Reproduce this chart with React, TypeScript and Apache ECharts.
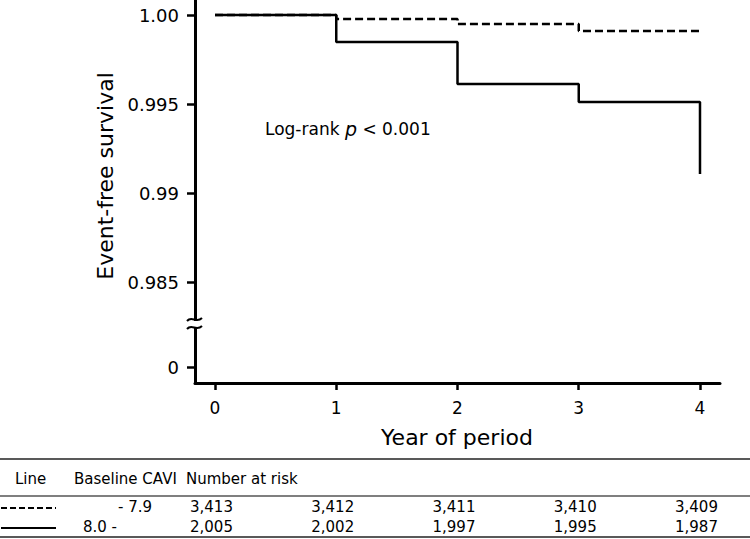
import React, { useEffect, useRef } from "react";
import * as echarts from "echarts";

const years = [0, 1, 2, 3, 4];
const survivalLow = [1.0, 0.99978, 0.99949, 0.9991, 0.999]; // Baseline CAVI -7.9 (dashed)
const survivalHigh = [1.0, 0.99848, 0.99612, 0.99511, 0.99107]; // Baseline CAVI 8.0- (solid)
const yTickValues = [0.9802, 0.985, 0.99, 0.995, 1.0];
const yTickLabels = ["0", "0.985", "0.99", "0.995", "1.00"];
const tableHeaders = ["Line", "Baseline CAVI", "Number at risk"];
const groupLabels = ["- 7.9", "8.0 -"];
const riskLow = ["3,413", "3,412", "3,411", "3,410", "3,409"];
const riskHigh = ["2,005", "2,002", "1,997", "1,995", "1,987"];

const FONT = "DejaVu Sans";

export default function App() {
  const ref = useRef<HTMLDivElement>(null);
  useEffect(() => {
    if (!ref.current) return;
    const chart = echarts.init(ref.current, null, { renderer: "svg" });
    const option: any = {
      animation: false,
      backgroundColor: "#fff",
      grid: { left: 195, right: 30, top: 0, bottom: 156 },
      xAxis: {
        type: "value",
        min: -0.165,
        max: 4.165,
        axisLine: { show: true, onZero: false, lineStyle: { color: "#000", width: 3 } },
        axisTick: { show: true, length: 7, lineStyle: { color: "#000", width: 2.5 }, customValues: years },
        axisLabel: { fontFamily: FONT, fontSize: 17, color: "#000", margin: 16, customValues: years },
        splitLine: { show: false },
      },
      yAxis: {
        type: "value",
        min: 0.97933,
        max: 1.000843,
        axisLine: { show: true, onZero: false, lineStyle: { color: "#000", width: 3 } },
        axisTick: { show: true, length: 8, lineStyle: { color: "#000", width: 2.5 }, customValues: yTickValues },
        axisLabel: {
          fontFamily: FONT,
          fontSize: 18,
          color: "#000",
          margin: 16,
          customValues: yTickValues,
          formatter: (v: number) => {
            const i = yTickValues.findIndex((t) => Math.abs(t - v) < 1e-6);
            return i >= 0 ? yTickLabels[i] : "";
          },
        },
        splitLine: { show: false },
      },
      series: [
        {
          type: "line",
          step: "end",
          symbol: "none",
          data: years.map((x, i) => [x, survivalLow[i]]),
          lineStyle: { color: "#000", width: 2.5, type: [8, 4] },
          z: 2,
        },
        {
          type: "line",
          step: "end",
          symbol: "none",
          data: years.map((x, i) => [x, survivalHigh[i]]),
          lineStyle: { color: "#000", width: 2.5 },
          z: 3,
        },
      ],
    };
    chart.setOption(option);

    const px = (v: number) => chart.convertToPixel({ xAxisIndex: 0 }, v) as number;
    const axisX = chart.convertToPixel({ xAxisIndex: 0 }, -0.165) as number;
    const tableText = (text: string, x: number, y: number, align: string = "left") => ({
      type: "text",
      x,
      y,
      style: { text, fontFamily: FONT, fontSize: 15, fill: "#000", align, verticalAlign: "middle" },
    });

    const graphics: any[] = [
      // axis titles
      {
        type: "text",
        x: 105,
        y: 176,
        rotation: Math.PI / 2,
        style: { text: "Event-free survival", fontFamily: FONT, fontSize: 22, fill: "#000", align: "center", verticalAlign: "middle" },
      },
      {
        type: "text",
        x: 457,
        y: 437,
        style: { text: "Year of period", fontFamily: FONT, fontSize: 22, fill: "#000", align: "center", verticalAlign: "middle" },
      },
      // axis break
      { type: "rect", shape: { x: axisX - 3, y: 321, width: 6, height: 6 }, style: { fill: "#fff" }, z: 100 },
      {
        type: "bezierCurve",
        shape: { x1: 187, y1: 321, cpx1: 192, cpy1: 315, cpx2: 196, cpy2: 324, x2: 202, y2: 318 },
        style: { stroke: "#000", lineWidth: 2, fill: null },
        z: 101,
      },
      {
        type: "bezierCurve",
        shape: { x1: 187, y1: 329, cpx1: 192, cpy1: 323, cpx2: 196, cpy2: 332, x2: 202, y2: 326 },
        style: { stroke: "#000", lineWidth: 2, fill: null },
        z: 101,
      },
      // log-rank annotation
      {
        type: "text",
        x: 265,
        y: 129,
        style: {
          text: "{a|Log-rank }{p|p}{a| < 0.001}",
          verticalAlign: "middle",
          rich: {
            a: { fontFamily: FONT, fontSize: 17, fill: "#000" },
            p: { fontFamily: FONT, fontSize: 19, fontStyle: "italic", fill: "#000" },
          },
        },
      },
      // table lines
      { type: "line", shape: { x1: 0, y1: 459, x2: 750, y2: 459 }, style: { stroke: "#222", lineWidth: 1.5 } },
      { type: "line", shape: { x1: 0, y1: 496, x2: 750, y2: 496 }, style: { stroke: "#555", lineWidth: 1.5 } },
      { type: "line", shape: { x1: 0, y1: 537, x2: 750, y2: 537 }, style: { stroke: "#222", lineWidth: 1.5 } },
      // headers
      tableText(tableHeaders[0], 15, 479),
      tableText(tableHeaders[1], 74, 479),
      tableText(tableHeaders[2], 186, 479),
      // line samples
      { type: "line", shape: { x1: 1, y1: 508, x2: 56, y2: 508 }, style: { stroke: "#000", lineWidth: 2, lineDash: [6, 3] } },
      { type: "line", shape: { x1: 1, y1: 528, x2: 56, y2: 528 }, style: { stroke: "#000", lineWidth: 2 } },
      tableText(groupLabels[0], 152, 507, "right"),
      tableText(groupLabels[1], 83, 527),
    ];
    years.forEach((yr, i) => {
      const x = px(yr) - 25;
      graphics.push(tableText(riskLow[i], x, 507));
      graphics.push(tableText(riskHigh[i], x, 527));
    });
    chart.setOption({ graphic: graphics });

    return () => chart.dispose();
  }, []);
  return <div ref={ref} style={{ width: 750, height: 539, position: "absolute", left: 0, top: 0 }} />;
}
